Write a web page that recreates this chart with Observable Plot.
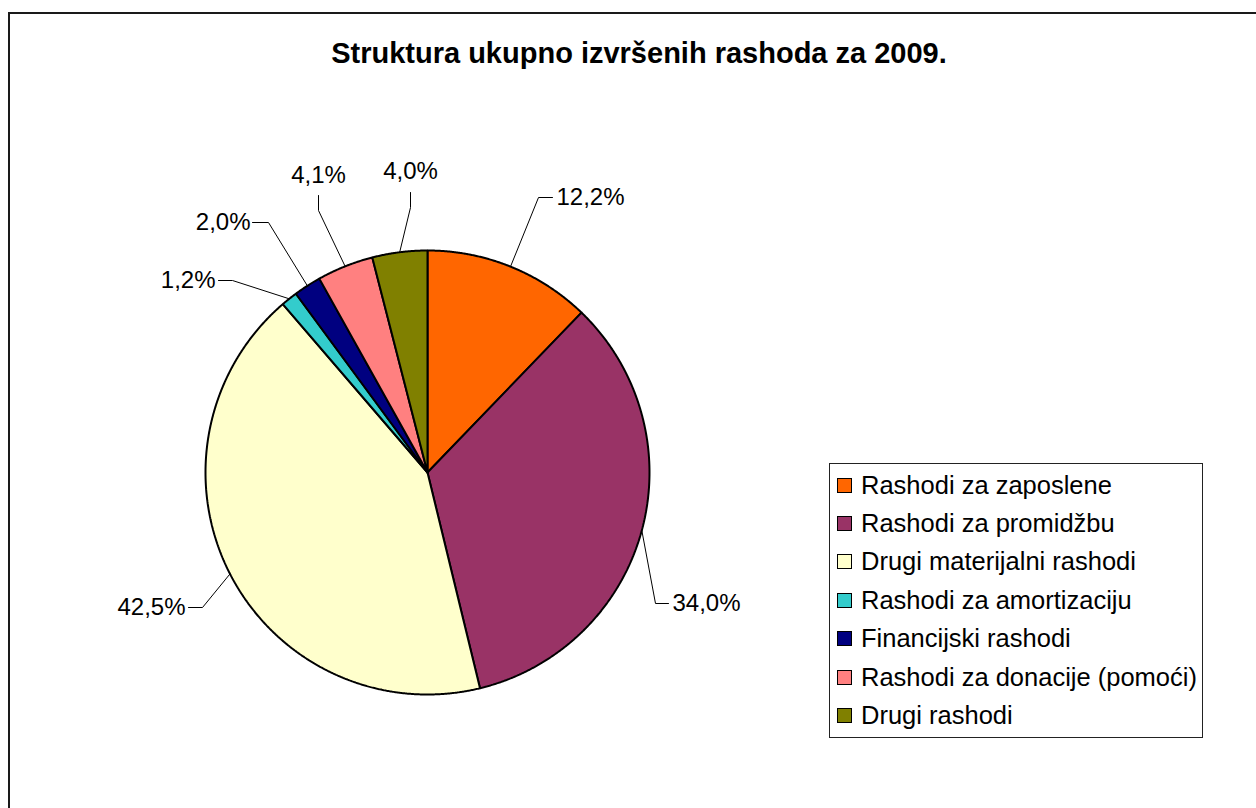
<!DOCTYPE html>
<html>
<head>
<meta charset="utf-8">
<script src="https://cdn.jsdelivr.net/npm/d3@7"></script>
<script src="https://cdn.jsdelivr.net/npm/@observablehq/plot@0.6"></script>
<style>
  html, body { margin: 0; padding: 0; background: #fff; }
  body { width: 1256px; height: 808px; position: relative; overflow: hidden; font-family: "Liberation Sans", Arial, sans-serif; }
  #frame { position: absolute; left: 8px; top: 12px; width: 1400px; height: 1000px; border-left: 2px solid #1a1a1a; border-top: 2px solid #1a1a1a; box-shadow: -1px -1px 0 #999 inset; }
  #chart { position: absolute; left: 0; top: 0; }
  #title { position: absolute; left: 0; width: 1278px; top: 36px; text-align: center; font-weight: bold; font-size: 29px; line-height: 34px; color: #000; }
  #legend { position: absolute; left: 829px; top: 463px; width: 372px; height: 273px; border: 1.5px solid #222; background: #fff; }
  .row { position: absolute; left: 0; height: 38px; display: flex; align-items: center; font-size: 25.5px; color: #000; white-space: nowrap; }
  .sw { width: 13px; height: 13px; border: 1.5px solid #000; margin-left: 7px; margin-right: 9px; flex: none; }
</style>
</head>
<body>
<div id="frame"></div>
<div id="chart"></div>
<div id="title">Struktura ukupno izvršenih rashoda za 2009.</div>
<div id="legend"></div>
<script>
// ---- data ----
const categories = [
  "Rashodi za zaposlene",
  "Rashodi za promidžbu",
  "Drugi materijalni rashodi",
  "Rashodi za amortizaciju",
  "Financijski rashodi",
  "Rashodi za donacije (pomoći)",
  "Drugi rashodi"
];
const values = [12.2, 34.0, 42.5, 1.2, 2.0, 4.1, 4.0];
const valueLabels = ["12,2%", "34,0%", "42,5%", "1,2%", "2,0%", "4,1%", "4,0%"];
const colors = ["#FF6600", "#993366", "#FFFFCC", "#33CCCC", "#000080", "#FF8080", "#808000"];

// ---- layout (label placement, in pixels relative to the pie centre, y up) ----
const R = 222;
const labelElbow = [[111, 275], [228, -131], [-225, -135], [-195, 192], [-159, 250], [-109, 262], [-17, 265]];
const labelEnd   = [[125, 275], [241, -131], [-239, -135], [-209, 192], [-175, 250], [-109, 277], [-17, 280]];
const labelText  = [[129, 275], [245, -131], [-242, -135], [-212, 192], [-177, 250], [-109, 297], [-17, 301]];
const labelAnchor = ["start", "start", "end", "end", "end", "middle", "middle"];

// ---- derived geometry ----
const total = d3.sum(values);
let acc = 0;
const slices = values.map((v, i) => {
  const a0 = acc / total * 2 * Math.PI;
  acc += v;
  const a1 = acc / total * 2 * Math.PI;
  return {i, cat: categories[i], a0, a1, mid: (a0 + a1) / 2};
});
const polyPts = [];
for (const s of slices) {
  polyPts.push({cat: s.cat, x: 0, y: 0});
  const n = Math.max(2, Math.ceil((s.a1 - s.a0) / (Math.PI / 720)));
  for (let k = 0; k <= n; k++) {
    const a = s.a0 + (s.a1 - s.a0) * k / n;
    polyPts.push({cat: s.cat, x: R * Math.sin(a), y: R * Math.cos(a)});
  }
  polyPts.push({cat: s.cat, x: 0, y: 0});
}
const leaderPts = [];
for (const s of slices) {
  leaderPts.push({k: s.i, x: R * Math.sin(s.mid), y: R * Math.cos(s.mid)});
  leaderPts.push({k: s.i, x: labelElbow[s.i][0], y: labelElbow[s.i][1]});
  leaderPts.push({k: s.i, x: labelEnd[s.i][0], y: labelEnd[s.i][1]});
}
const texts = slices.map(s => ({x: labelText[s.i][0], y: labelText[s.i][1], t: valueLabels[s.i], anchor: labelAnchor[s.i]}));

const textMark = (anchor) => Plot.text(texts.filter(d => d.anchor === anchor), {
  x: "x", y: "y", text: "t", textAnchor: anchor, fontSize: 24, fill: "#000",
  fontFamily: "Liberation Sans, Arial, sans-serif"
});

const chart = Plot.plot({
  width: 1256,
  height: 808,
  margin: 0,
  style: {background: "transparent", overflow: "visible"},
  x: {domain: [-R, R], range: [427 - R, 427 + R], axis: null},
  y: {domain: [-R, R], range: [472 + R, 472 - R], axis: null},
  color: {domain: categories, range: colors},
  marks: [
    Plot.line(polyPts, {x: "x", y: "y", z: "cat", fill: "cat", stroke: "#000", strokeWidth: 2, strokeLinejoin: "miter", curve: "linear"}),
    Plot.line(leaderPts, {x: "x", y: "y", z: "k", stroke: "#000", strokeWidth: 1}),
    textMark("start"),
    textMark("end"),
    textMark("middle")
  ]
});
document.getElementById("chart").appendChild(chart);

// ---- legend ----
const legend = document.getElementById("legend");
categories.forEach((c, i) => {
  const row = document.createElement("div");
  row.className = "row";
  row.style.top = (2 + i * 38.4) + "px";
  const sw = document.createElement("span");
  sw.className = "sw";
  sw.style.background = colors[i];
  const tx = document.createElement("span");
  tx.textContent = c;
  row.appendChild(sw);
  row.appendChild(tx);
  legend.appendChild(row);
});
</script>
</body>
</html>
